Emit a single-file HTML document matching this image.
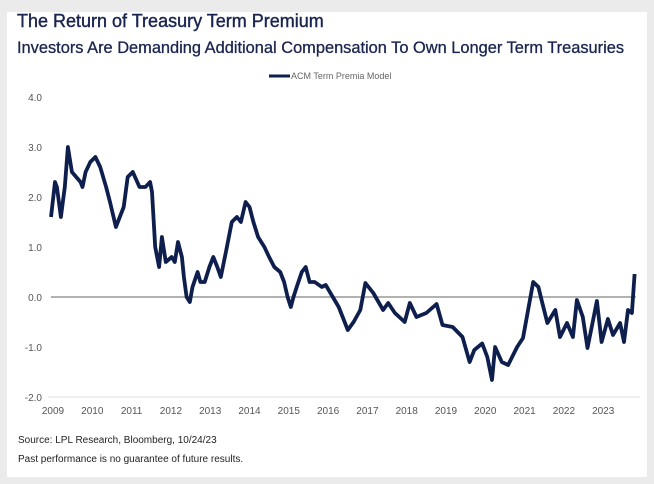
<!DOCTYPE html>
<html><head><meta charset="utf-8">
<style>
body{margin:0;width:654px;height:484px;background:#ebebeb;font-family:"Liberation Sans",sans-serif;overflow:hidden;position:relative}
#card{position:absolute;left:7px;top:12px;width:640px;height:465px;background:#fff}
.t{position:absolute;color:#1b2550;white-space:nowrap}
</style></head><body>
<div id="card"></div>
<div class="t" style="left:17px;top:11px;font-size:18px;-webkit-text-stroke:0.4px #1b2550;">The Return of Treasury Term Premium</div>
<div class="t" style="left:17px;top:39px;font-size:16.4px;-webkit-text-stroke:0.3px #1b2550;">Investors Are Demanding Additional Compensation To Own Longer Term Treasuries</div>
<div class="t" style="left:18px;top:435px;font-size:10px;color:#222">Source: LPL Research, Bloomberg, 10/24/23</div>
<div class="t" style="left:18px;top:454px;font-size:10px;color:#222">Past performance is no guarantee of future results.</div>
<svg id="chart" width="654" height="484" style="position:absolute;left:0;top:0"></svg>
<script>
const yTicks=[4,3,2,1,0,-1,-2];
const yLabels=["4.0","3.0","2.0","1.0","0.0","-1.0","-2.0"];
const xTicks=[2009,2010,2011,2012,2013,2014,2015,2016,2017,2018,2019,2020,2021,2022,2023];
const dates=[2008.95,2009.05,2009.1,2009.2,2009.3,2009.38,2009.48,2009.7,2009.75,2009.83,2009.95,2010.08,2010.2,2010.35,2010.45,2010.6,2010.7,2010.8,2010.9,2011.03,2011.2,2011.35,2011.47,2011.52,2011.6,2011.7,2011.77,2011.87,2012.02,2012.1,2012.18,2012.28,2012.33,2012.4,2012.48,2012.55,2012.68,2012.75,2012.86,2012.98,2013.08,2013.18,2013.27,2013.4,2013.55,2013.68,2013.78,2013.9,2014.0,2014.1,2014.22,2014.38,2014.5,2014.63,2014.78,2014.88,2014.97,2015.05,2015.12,2015.2,2015.33,2015.43,2015.53,2015.66,2015.84,2015.94,2016.27,2016.5,2016.65,2016.82,2016.95,2017.15,2017.4,2017.53,2017.7,2017.95,2018.08,2018.25,2018.5,2018.76,2018.91,2019.17,2019.42,2019.6,2019.72,2019.92,2020.05,2020.17,2020.25,2020.42,2020.58,2020.81,2020.96,2021.09,2021.22,2021.35,2021.45,2021.58,2021.78,2021.9,2022.08,2022.23,2022.33,2022.48,2022.6,2022.84,2022.96,2023.12,2023.25,2023.43,2023.53,2023.63,2023.73,2023.8];
const values=[1.6,2.3,2.2,1.6,2.2,3.0,2.5,2.3,2.2,2.5,2.7,2.8,2.6,2.2,1.9,1.4,1.6,1.8,2.4,2.5,2.2,2.2,2.3,2.1,1.0,0.6,1.2,0.7,0.8,0.7,1.1,0.8,0.4,0.0,-0.1,0.2,0.5,0.3,0.3,0.6,0.8,0.6,0.4,0.9,1.5,1.6,1.5,1.9,1.8,1.5,1.2,1.0,0.8,0.6,0.5,0.3,0.0,-0.2,0.0,0.2,0.5,0.6,0.3,0.3,0.2,0.24,-0.2,-0.66,-0.5,-0.26,0.28,0.08,-0.26,-0.12,-0.32,-0.5,-0.12,-0.4,-0.32,-0.14,-0.56,-0.6,-0.8,-1.3,-1.06,-0.93,-1.2,-1.66,-1.0,-1.3,-1.36,-1.0,-0.82,-0.26,0.3,0.2,-0.12,-0.52,-0.26,-0.8,-0.52,-0.8,-0.06,-0.4,-1.02,-0.08,-0.9,-0.44,-0.76,-0.52,-0.9,-0.26,-0.32,0.46];
const svg=document.getElementById('chart');const NS='http://www.w3.org/2000/svg';
const X=d=>53+(d-2009)*39.3;const Y=v=>297-v*50;
function mk(t,a,txt){const e=document.createElementNS(NS,t);for(const k in a)e.setAttribute(k,a[k]);if(txt!==undefined)e.textContent=txt;svg.appendChild(e);return e;}
yTicks.forEach((v,i)=>{const e=mk('text',{x:42,y:Y(v)+4,'text-anchor':'end','font-size':10,fill:'#555','font-family':'Liberation Sans, sans-serif'},yLabels[i]);

});
xTicks.forEach(d=>{const e=mk('text',{x:X(d),y:414,'text-anchor':'middle','font-size':10,fill:'#555','font-family':'Liberation Sans, sans-serif'},String(d));

});
const ax=mk('line',{x1:48,x2:640,y1:Y(-2),y2:Y(-2),stroke:'#ddd','stroke-width':1});


const z=mk('line',{x1:51,x2:636,y1:Y(0),y2:Y(0),stroke:'#999','stroke-width':1.5});


const pts=dates.map((d,i)=>X(d).toFixed(1)+','+Y(values[i]).toFixed(1)).join(' ');
const pl=mk('polyline',{points:pts,fill:'none',stroke:'#0f1f4d','stroke-width':3.8,'stroke-linejoin':'round'});


const ll=mk('line',{x1:269,x2:290,y1:76,y2:76,stroke:'#0f1f4d','stroke-width':3});


const lt=mk('text',{x:291,y:79,'font-size':9,fill:'#666','font-family':'Liberation Sans, sans-serif'},'ACM Term Premia Model');


</script>
</body></html>
